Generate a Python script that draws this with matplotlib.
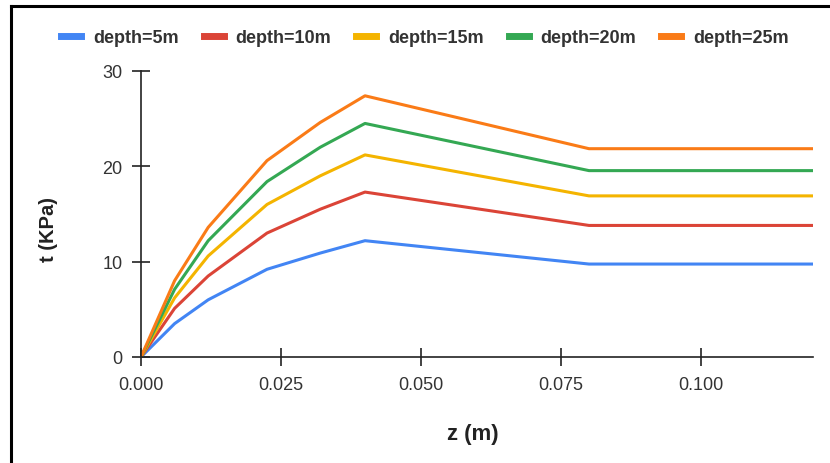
import matplotlib
matplotlib.use("Agg")
import matplotlib.pyplot as plt
from matplotlib.lines import Line2D

plt.rcParams['font.family'] = ['Liberation Sans', 'DejaVu Sans']

z = [0.0, 0.006, 0.012, 0.0225, 0.032, 0.040, 0.080, 0.120]
series_labels = ["depth=5m", "depth=10m", "depth=15m", "depth=20m", "depth=25m"]
t_5 = [0.0, 3.5, 6.0, 9.2, 10.9, 12.2, 9.75, 9.75]
t_10 = [0.0, 5.1, 8.5, 13.0, 15.5, 17.3, 13.8, 13.8]
t_15 = [0.0, 6.2, 10.6, 16.0, 19.0, 21.2, 16.9, 16.9]
t_20 = [0.0, 7.1, 12.2, 18.4, 22.0, 24.5, 19.55, 19.55]
t_25 = [0.0, 8.0, 13.6, 20.6, 24.6, 27.4, 21.85, 21.85]
series = [t_5, t_10, t_15, t_20, t_25]
colors = ["#4285f4", "#db4437", "#f4b400", "#34a853", "#fa7b17"]

x_ticks = [0.0, 0.025, 0.05, 0.075, 0.1]
x_ticklabels = ["0.000", "0.025", "0.050", "0.075", "0.100"]
y_ticks = [0, 10, 20, 30]

fig = plt.figure(figsize=(8.3, 4.64), dpi=100)
ax = fig.add_axes([141 / 830, 1 - 358 / 464, 672 / 830, 286 / 464])

for vals, c, lab in zip(series, colors, series_labels):
    ax.plot(z, vals, color=c, lw=2.2, label=lab, solid_capstyle='butt')

ax.set_xlim(0, 0.12)
ax.set_ylim(0, 30)
ax.set_xticks(x_ticks)
ax.set_xticklabels(x_ticklabels)
ax.set_yticks(y_ticks)
for s in ['top', 'right']:
    ax.spines[s].set_visible(False)
for s in ['left', 'bottom']:
    ax.spines[s].set_color('#222222')
    ax.spines[s].set_linewidth(1.2)
ax.tick_params(axis='both', direction='inout', length=13, width=1.2, color='#222222',
               labelsize=13, labelcolor='#333333')
ax.tick_params(axis='x', pad=7)
ax.tick_params(axis='y', pad=7)

ax.set_xlabel("z (m)", fontsize=16, fontweight='bold', color='#222222', ha='center', va='center')
ax.set_ylabel("t (KPa)", fontsize=14.5, fontweight='bold', color='#222222', ha='center', va='center')
ax.xaxis.set_label_coords(0.494, -0.269)
ax.yaxis.set_label_coords(-0.137, 0.451)

handles = [Line2D([0], [0], color=c, lw=5) for c in colors]
fig.legend(handles, series_labels, loc='center', bbox_to_anchor=(0.512, 0.916), ncol=5,
           frameon=False, prop={'weight': 'bold', 'size': 13}, labelcolor='#333333',
           handlelength=1.1, handletextpad=0.65, columnspacing=1.4)

# figure border (left and top)
fig.add_artist(Line2D([0.0135, 0.0135], [0, 0.985], transform=fig.transFigure, color='black', lw=2.2))
fig.add_artist(Line2D([0.0135, 1.0], [0.985, 0.985], transform=fig.transFigure, color='black', lw=2.2))

fig.savefig("out.png", dpi=100)
